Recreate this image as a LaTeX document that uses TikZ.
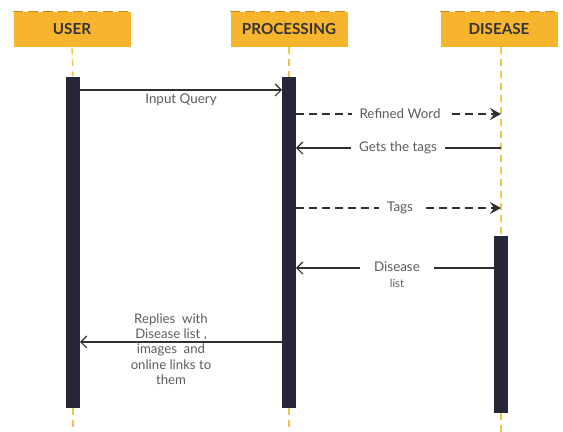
\documentclass[tikz,border=0pt]{standalone}
\usepackage{fontspec}
\setmainfont{Lato}
\usepackage{tikz}
\usetikzlibrary{arrows.meta, positioning, calc}

\definecolor{headfill}{HTML}{F7B52E}
\definecolor{headedge}{HTML}{C98A12}
\definecolor{lifecol}{HTML}{EDC64A}
\definecolor{barcol}{HTML}{272638}
\definecolor{msgcol}{HTML}{303030}
\definecolor{txtcol}{HTML}{5C5C5C}

\tikzset{
    head/.style={fill=headfill, minimum width=58.5pt, minimum height=17.5pt,
        inner sep=0pt, font=\fontsize{7.6}{9}\selectfont\bfseries, text=black!80},
    headtop/.style={draw=headedge, dash pattern=on 5pt off 2.5pt, line width=0.6pt},
    lifeline/.style={draw=lifecol, dash pattern=on 3.5pt off 2.5pt, line width=0.7pt},
    bar/.style={fill=barcol, minimum width=7pt, inner sep=0pt},
    call/.style={draw=msgcol, line width=0.6pt, -{Straight Barb[length=3pt, width=6pt]}},
    async/.style={draw=msgcol, line width=0.8pt, dash pattern=on 4pt off 2.5pt,
        -{Stealth[length=5.5pt, width=6pt, inset=2pt]}},
    lbl/.style={font=\fontsize{6.7}{7.8}\selectfont, text=txtcol, inner sep=1pt, align=center},
    gaplbl/.style={lbl, fill=white, inner xsep=4pt}
}

\begin{document}
\begin{tikzpicture}[x=0.5pt, y=-0.5pt]
    \useasboundingbox (0,0) rectangle (563,432);

    % Headers
    \node[head] (user) at (72,29.5) {USER};
    \node[head] (proc) at (289,29.5) {PROCESSING};
    \node[head] (dis) at (499,29.5) {DISEASE};
    \draw[headtop] (user.north west) -- (user.north east);
    \draw[headtop] (proc.north west) -- (proc.north east);
    \draw[headtop] (dis.north west) -- (dis.north east);

    % Activation bars
    \node[bar, minimum height=165.5pt] (userbar) at (73,242.5) {};
    \node[bar, minimum height=165.5pt] (procbar) at (289,242.5) {};
    \node[bar, minimum height=88.5pt] (disbar) at (501,324.5) {};

    % Lifelines
    \coordinate (userend) at (73,432);
    \coordinate (procend) at (289,432);
    \coordinate (disend) at (501,432);
    \draw[lifeline] (user.south) -- (userbar.north);
    \draw[lifeline] (userbar.south) -- (userend);
    \draw[lifeline] (proc.south) -- (procbar.north);
    \draw[lifeline] (procbar.south) -- (procend);
    \draw[lifeline] (dis.south -| disbar.north) -- (disbar.north);
    \draw[lifeline] (disbar.south) -- (disend);

    % Input Query
    \coordinate (q1a) at (80,90);
    \coordinate (q1b) at (282,90);
    \draw[call] (q1a) -- (q1b);
    \node[lbl] (q1l) at (181,100) {Input Query};

    % Refined Word
    \coordinate (q2a) at (296,114);
    \coordinate (q2b) at (501,114);
    \draw[async] (q2a) -- (q2b);
    \node[gaplbl] (q2l) at (400,114) {Refined Word};

    % Gets the tags
    \coordinate (q3a) at (501,148);
    \coordinate (q3b) at (296,148);
    \draw[call] (q3a) -- (q3b);
    \node[gaplbl] (q3l) at (398,148) {Gets the tags};

    % Tags
    \coordinate (q4a) at (296,208);
    \coordinate (q4b) at (501,208);
    \draw[async] (q4a) -- (q4b);
    \node[gaplbl] (q4l) at (400,208) {Tags};

    % Disease list
    \coordinate (q5a) at (494,268);
    \coordinate (q5b) at (296,268);
    \draw[call] (q5a) -- (q5b);
    \node[gaplbl, inner xsep=7pt] (q5l) at (397,267) {Disease};
    \node[lbl, font=\fontsize{5.6}{6.5}\selectfont] (q5m) at (397,283) {list};

    % Replies
    \coordinate (q6a) at (282,342);
    \coordinate (q6b) at (80,342);
    \draw[call] (q6a) -- (q6b);
    \node[lbl, font=\fontsize{6.6}{7.7}\selectfont] (q6l) at (171,349) {Replies\ \ with\\Disease list ,\\images\ \ and\\online links to\\them};
\end{tikzpicture}
\end{document}
